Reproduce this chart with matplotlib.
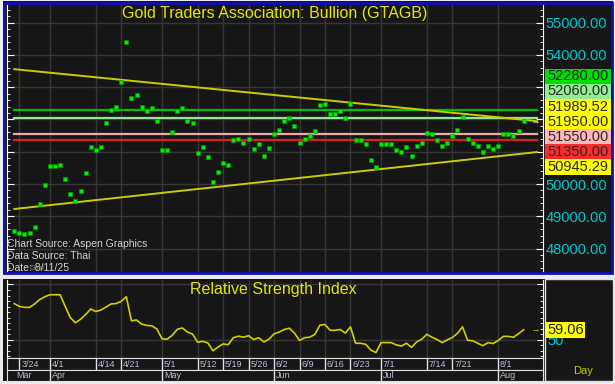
import numpy as np
import matplotlib.pyplot as plt
from matplotlib.patches import Rectangle
from matplotlib.ticker import MultipleLocator, FixedLocator, FuncFormatter
import matplotlib.transforms as mtransforms

# ------------------------------------------------------------------
# daily closes (THB), one per trading day
close = [48530, 48470, 48440, 48470, 48670, 49390, 49980, 50550, 50550, 50590,
         50150, 49680, 49480, 49770, 50350, 51150, 51050, 51150, 51890, 52280,
         52400, 53150, 54400, 52660, 52770, 52400, 52250, 52360, 51950, 51050,
         51050, 51600, 52250, 52360, 51950, 51890, 50950, 51150, 50850, 50070,
         50380, 50650, 50580, 51350, 51400, 51270, 51400, 51090, 51250, 50880,
         51120, 51540, 51680, 51950, 52060, 51790, 51270, 51400, 51480, 51650,
         52460, 52490, 52160, 52160, 52250, 52060, 52490, 51350, 51350, 51250,
         50750, 50540, 51250, 51250, 51250, 51040, 50980, 51150, 50880, 51180,
         51270, 51590, 51550, 51350, 51180, 51270, 51480, 51680, 52090, 51400,
         51270, 51180, 50980, 51180, 51090, 51180, 51550, 51550, 51480, 51650,
         51950]

rsi = [82.7, 80.2, 79.3, 79.3, 82.4, 86.4, 88.9, 90.7, 90.7, 90.7,
       80.2, 70.0, 65.4, 68.5, 72.8, 77.8, 75.6, 76.9, 79.6, 82.4,
       82.7, 84.8, 88.9, 67.2, 67.9, 64.2, 63.0, 62.6, 59.8, 50.9,
       50.6, 54.0, 59.5, 60.7, 57.0, 55.2, 47.8, 48.7, 47.2, 40.1,
       43.5, 46.3, 45.6, 51.9, 53.3, 52.4, 53.7, 50.3, 51.9, 48.1,
       50.6, 55.4, 57.0, 59.3, 60.5, 56.1, 49.4, 51.9, 52.4, 54.9,
       63.2, 63.9, 58.6, 58.6, 59.3, 56.1, 61.7, 46.9, 46.9, 45.9,
       40.7, 38.5, 47.5, 47.5, 47.5, 45.4, 44.4, 46.9, 43.2, 48.1,
       50.6, 54.9, 52.4, 50.3, 47.5, 50.0, 52.1, 55.8, 61.7, 49.6,
       49.1, 46.9, 44.7, 47.5, 46.6, 49.4, 53.1, 53.1, 52.4, 55.6,
       59.06]

tick_idx = [1, 7, 16, 21, 29, 36, 41, 46, 51, 56, 61, 66, 72, 81, 86, 95]
tick_lbl = ["3/24", "4/1", "4/14", "4/21", "5/1", "5/12", "5/19", "5/26",
            "6/2", "6/9", "6/16", "6/23", "7/1", "7/14", "7/21", "8/1"]
month_idx = [0, 7, 29, 51, 72, 95]
month_lbl = ["Mar", "Apr", "May", "Jun", "Jul", "Aug"]

levels = [52280, 52060, 51550, 51350]
level_colors = ["#00c000", "#8fe88f", "#f0a8a8", "#d82020"]
upper_trend = [53560, 51989.52]   # value at first and last bar
lower_trend = [49225, 50945.29]

box_vals = [52280.00, 52060.00, 51989.52, 51950.00, 51550.00, 51350.00, 50945.29]
box_colors = ["#00dd00", "#90ee90", "#ffff00", "#ffff00", "#ffb6b6", "#ff2a2a", "#ffff00"]
# ------------------------------------------------------------------

W, H = 615, 384
BG = "#161616"
FONT = "Liberation Sans"


def frect(x0, y0, x1, y1):
    return [x0 / W, 1 - y1 / H, (x1 - x0) / W, (y1 - y0) / H]


def fig_rect(fig, x0, y0, x1, y1, **kw):
    r = Rectangle((x0 / W, 1 - y1 / H), (x1 - x0) / W, (y1 - y0) / H,
                  transform=fig.transFigure, **kw)
    fig.add_artist(r)
    return r


def price_label(v, pos):
    # the stacked value boxes sit over these scale labels
    if 50700 < v < 53500:
        return ""
    return f"{v:.2f}"


def main():
    plt.rcParams["font.family"] = [FONT, "DejaVu Sans"]
    fig = plt.figure(figsize=(W / 100, H / 100), dpi=100, facecolor="#ececec")

    # dark panel backgrounds
    fig_rect(fig, 3, 1, 613, 274, fc=BG, ec="none", zorder=-2)
    fig_rect(fig, 3, 279, 613, 381, fc=BG, ec="none", zorder=-2)

    x = np.arange(len(close))
    xlim = (-1.43, 103.8)
    x_end = len(close) - 1 + 2.6

    # ---------------- price panel ----------------
    ax = fig.add_axes(frect(7, 4, 543, 272))
    ax.set_facecolor(BG)
    ax.set_xlim(*xlim)
    ax.set_ylim(47272, 55580)

    ax.set_xticks(tick_idx)
    ax.yaxis.set_major_locator(MultipleLocator(1000))
    ax.yaxis.set_minor_locator(MultipleLocator(200))
    ax.grid(True, color="#363636", lw=1)
    ax.tick_params(axis="x", length=0, labelbottom=False)
    ax.tick_params(axis="y", which="both", direction="in", colors="white",
                   left=True, right=True, labelleft=False, labelright=True)
    ax.tick_params(axis="y", which="major", length=5, labelcolor="#00c8d0",
                   labelsize=10.5, pad=2)
    ax.tick_params(axis="y", which="minor", length=2.5)
    ax.yaxis.set_major_formatter(FuncFormatter(price_label))
    for s in ["top", "bottom"]:
        ax.spines[s].set_visible(False)
    for s in ["left", "right"]:
        ax.spines[s].set_color("white")

    for lv, c in zip(levels, level_colors):
        ax.plot([0, x_end], [lv, lv], color=c, lw=1.6, zorder=2)

    n = len(close) - 1
    for tr in [upper_trend, lower_trend]:
        slope = (tr[1] - tr[0]) / n
        ax.plot([0, x_end], [tr[0], tr[0] + slope * x_end], color="#cccc00",
                lw=1.4, zorder=3)

    ax.plot(x, close, ls="none", marker="s", ms=2.8, mfc="#00ee00",
            mec="#009a00", mew=0.4, zorder=4)
    ax.text(x_end - 0.3, close[-1], "→", color="#e8e8a0", fontsize=7,
            ha="center", va="center", zorder=5)

    fig.text(275 / W, 1 - 13.5 / H, "Gold Traders Association: Bullion (GTAGB)",
             ha="center", va="center", color="#e6e600", fontsize=11.5)

    info = ["Chart Source: Aspen Graphics", "Data Source: Thai", "Date: 8/11/25"]
    for k, t in enumerate(info):
        fig.text(7 / W, 1 - (244 + 11.8 * k) / H, t, color="#d4d4d4",
                 fontsize=7.5, va="center", ha="left")
    fig.text(30 / W, 1 - 268 / H, "Gold", color="#9a9a30", fontsize=5,
             va="center", ha="left")

    # stacked value boxes on the price scale
    for k, (v, c) in enumerate(zip(box_vals, box_colors)):
        y0 = 68.5 + 15.15 * k
        fig_rect(fig, 545, y0, 611, y0 + 15.15, fc=c, ec="none", zorder=3)
        fig.text(547 / W, 1 - (y0 + 7.8) / H, f"{v:.2f}", color="#2a2a2a",
                 fontsize=10.5, va="center", ha="left", zorder=4)

    # blue frame round the price panel
    fig_rect(fig, 4, 2.5, 612, 273, fc="none", ec="#1010b8", lw=2, zorder=6)

    # ---------------- RSI panel ----------------
    ax2 = fig.add_axes(frect(7, 280, 543, 358))
    ax2.set_facecolor(BG)
    ax2.set_xlim(*xlim)
    ax2.set_ylim(33.6, 104)
    ax2.plot(x, rsi, color="#d0d000", lw=1.2)
    ax2.set_xticks(tick_idx)
    ax2.yaxis.set_major_locator(FixedLocator([50, 100]))
    ax2.yaxis.set_minor_locator(MultipleLocator(5))
    ax2.yaxis.set_major_formatter(FuncFormatter(lambda v, p: "50" if v == 50 else ""))
    ax2.grid(True, color="#363636", lw=1)
    ax2.tick_params(axis="x", length=0, labelbottom=False)
    ax2.tick_params(axis="y", which="both", direction="in", colors="white",
                    left=True, right=True, labelleft=False, labelright=True)
    ax2.tick_params(axis="y", which="major", length=4, labelcolor="#00c8d0",
                    labelsize=10.5, pad=3)
    ax2.tick_params(axis="y", which="minor", length=2.5)
    ax2.spines["top"].set_visible(False)
    for s in ["left", "right", "bottom"]:
        ax2.spines[s].set_color("white")

    fig.text(273 / W, 1 - 289.5 / H, "Relative Strength Index",
             ha="center", va="center", color="#e6e600", fontsize=11.5)
    tr = mtransforms.blended_transform_factory(ax2.transAxes, ax2.transData)
    ax2.text(1.008, rsi[-1], f"{rsi[-1]:.2f}", transform=tr, ha="left",
             va="center", color="#202020", fontsize=10.5, clip_on=False,
             zorder=6, bbox=dict(fc="#ffff00", ec="none", pad=0.6))
    ax2.text(x_end - 0.3, rsi[-1], "→", color="#d0d000", fontsize=7,
             ha="center", va="center")

    # ---------------- date rows ----------------
    axd = fig.add_axes(frect(7, 358, 543, 369.5))
    axm = fig.add_axes(frect(7, 369.5, 543, 381))
    for a in [axd, axm]:
        a.set_facecolor(BG)
        a.set_xlim(*xlim)
        a.set_ylim(0, 1)
        a.set_xticks([])
        a.set_yticks([])
        for s in a.spines.values():
            s.set_color("#e0e0e0")
    for i, t in zip(tick_idx, tick_lbl):
        axd.axvline(i, color="#e0e0e0", lw=1)
        axd.text(i + 0.35, 0.45, t, color="#b8c0d8", fontsize=6.5,
                 ha="left", va="center")
    for i, t in zip(month_idx, month_lbl):
        if i > 0:
            axm.axvline(i, color="#e0e0e0", lw=1)
        axm.text(i + 0.35, 0.45, t, color="#b8c0d8", fontsize=6.5,
                 ha="left", va="center")

    # right-hand lower box
    fig_rect(fig, 544.5, 279, 613, 381, fc="none", ec="#e0e0e0", lw=1, zorder=5)
    fig.text(583 / W, 1 - 371 / H, "Day", color="#c8c800", fontsize=8,
             ha="center", va="center")

    fig.savefig("out.png", dpi=100, facecolor=fig.get_facecolor())


if __name__ == "__main__":
    main()
